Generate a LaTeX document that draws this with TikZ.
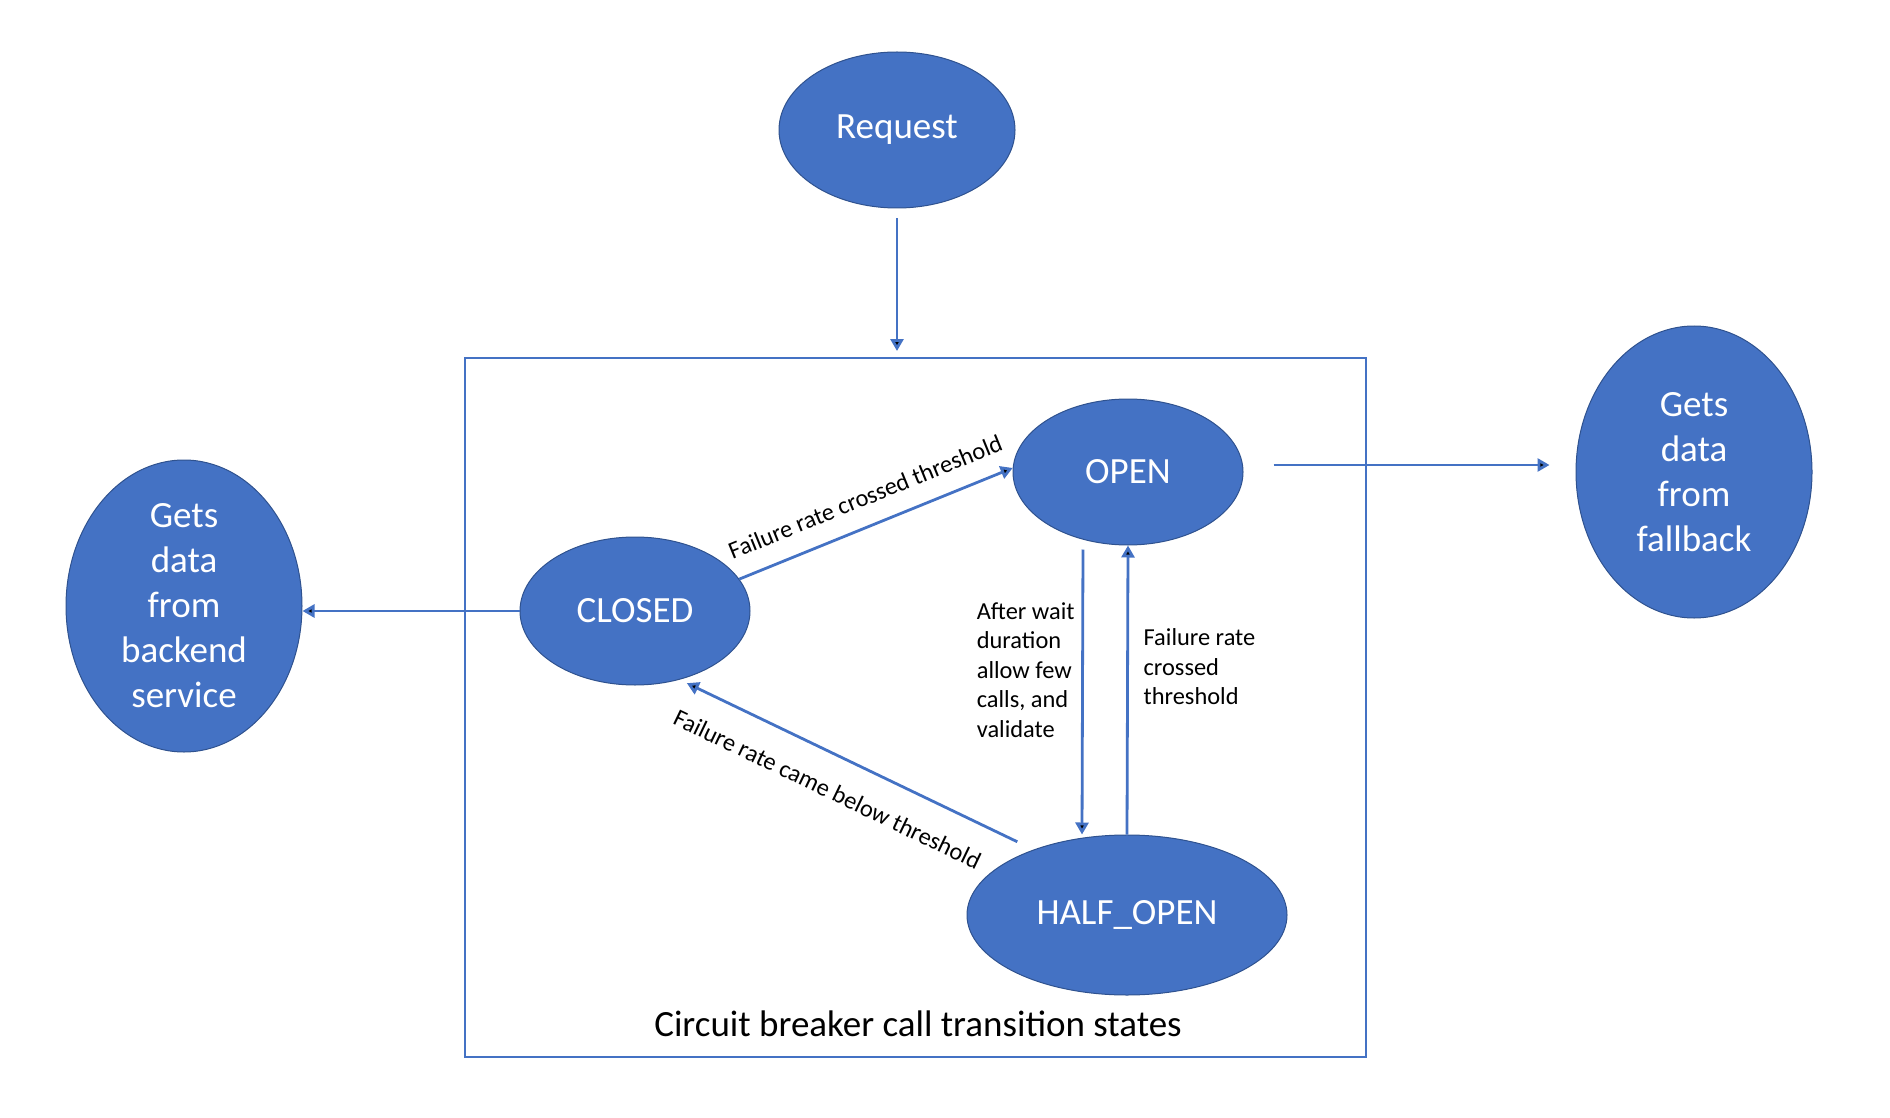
\documentclass[tikz,border=0pt]{standalone}
\usepackage{fontspec}
\setmainfont{Carlito}
\usetikzlibrary{arrows.meta,positioning,shapes.geometric}
\definecolor{officeblue}{HTML}{4472C4}
\definecolor{darkblue}{HTML}{2F528F}

\begin{document}
\begin{tikzpicture}[->,>={Triangle[length=6pt,width=6.5pt]},auto,x=0.5pt,y=-0.5pt,
                state node/.style={ellipse,draw=darkblue,line width=0.5pt,fill=officeblue,
                  text=white,inner sep=0pt,align=center,font=\fontsize{18.5}{22.5}\selectfont},
                note/.style={text=black,align=left,font=\fontsize{12.2}{14.75}\selectfont}]
	\useasboundingbox (0,0) rectangle (1890,1118);

	\node[state node,minimum width=118pt,minimum height=78pt] (req) at (897,130) {Request};
	\node[state node,minimum width=115pt,minimum height=74pt] (closed) at (635,611) {CLOSED};
	\node[state node,minimum width=115pt,minimum height=73pt] (open) at (1128,472) {OPEN};
	\node[state node,minimum width=160pt,minimum height=80pt] (half) at (1127,915) {HALF\_OPEN};
	\node[state node,minimum width=118pt,minimum height=146pt] (backend) at (184,606) {Gets\\data\\from\\backend\\service};
	\node[state node,minimum width=118pt,minimum height=146pt] (fallback) at (1694,472) {Gets\\data\\from\\fallback};

	\node[draw=officeblue,line width=1pt,inner sep=0pt,minimum width=450.5pt,minimum height=349.5pt] (box) at (915.5,707.5) {};
	\node[anchor=base,font=\fontsize{18.5}{22}\selectfont] (title) at (918,1036) {Circuit breaker call transition states};

	\path[draw=officeblue,line width=1.4pt]
	(req.south) edge [shorten <=5pt,shorten >=3pt] (req.south |- box.north)
	(closed.west) edge (closed.west -| backend.east)
	([yshift=3.5pt]open.east) edge [shorten <=15pt,shorten >=13pt] ([yshift=3.5pt]open.east -| fallback.west)
	(closed.17) edge node[note,sloped,above=6pt] {Failure rate crossed threshold} (open.178)
	(half.145) edge [shorten <=9pt,shorten >=4pt] node[note,sloped,below=9pt,pos=0.54] {Failure rate came below threshold} (closed.-57)
	([xshift=-22.5pt]open.south) edge [shorten <=2pt] node[note,left,pos=0.43] {After wait\\duration\\allow few\\calls, and\\validate} ([xshift=-22.5pt]half.north)
	(half.north) edge node[note,right=4pt,pos=0.58] {Failure rate\\crossed\\threshold} (open.south)
;
\end{tikzpicture}
\end{document}
